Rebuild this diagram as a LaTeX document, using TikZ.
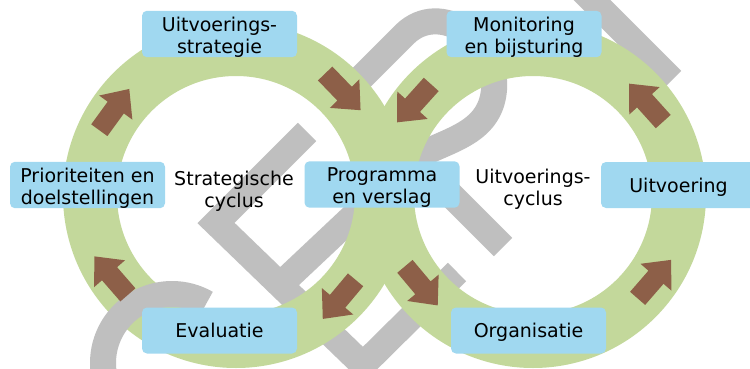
\documentclass[tikz,border=0pt]{standalone}
\usepackage{fontspec}
\setmainfont{DejaVu Sans}
\definecolor{ringgreen}{RGB}{195,216,155}
\definecolor{boxblue}{RGB}{160,216,240}
\definecolor{arrowbrown}{RGB}{141,95,72}
\definecolor{chaingrey}{RGB}{191,191,191}
\newcommand\flowarrow[3]{\fill[arrowfill, shift={(#1,#2)}, rotate=#3]
  (-25,-10) -- (3,-10) -- (3,-20.5) -- (26,0) -- (3,20.5) -- (3,10) -- (-25,10) -- cycle;}
\newcommand\twol[2]{\rule{0pt}{20.5pt}#1\\#2}
\begin{document}
\begin{tikzpicture}[x=1pt,y=-1pt,
  ring/.style={draw=ringgreen, line width=54pt},
  chain/.style={draw=chaingrey, line width=26pt, line join=miter, line cap=butt},
  stepbox/.style={fill=boxblue, rounded corners=5pt, inner sep=0pt, minimum width=155pt,
    minimum height=46pt, align=center, font=\fontsize{19}{22}\selectfont},
  onebox/.style={fill=boxblue, rounded corners=5pt, inner sep=0pt, minimum width=155pt,
    minimum height=46pt, text height=14.4pt, text depth=0pt, font=\fontsize{19}{22}\selectfont},
  cyctext/.style={inner sep=0pt, align=center, font=\fontsize{19}{22}\selectfont},
  arrowfill/.style={fill=arrowbrown}]
\useasboundingbox (0,0) rectangle (750,369);
\clip (0,0) rectangle (750,369);
\fill[white] (0,0) rectangle (750,369);
% grey chain behind the rings
\draw[chain] (307,132) -- (216,223) -- (363,365) -- (457,272);
\draw[chain] (279,286) -- (415,158) .. controls (445,140) and (490,135) .. (494,90)
  .. controls (498,40) and (440,0) .. (405,34) -- (330,109);
\draw[chain] (405,149) -- (503,247);
\draw[chain] (540,-52) -- (672,80);
% rings
\draw[ring] (236,195) circle[radius=146pt];
\draw[ring] (533,195) circle[radius=146pt];
% grey link passing over the left ring
\draw[chain] plot[domain=170:300, samples=60] ({172+69*cos(\x)},{363+69*sin(\x)});
% arrows
\flowarrow{114}{110}{54}
\flowarrow{342.5}{91.5}{-46}
\flowarrow{339.5}{299}{-130}
\flowarrow{111.5}{276}{131}
\flowarrow{414.5}{103}{-132}
\flowarrow{646.5}{103}{132}
\flowarrow{654}{279.5}{49}
\flowarrow{421}{285.5}{-50}
% boxes
\node[stepbox] (strat) at (219.5,34) {\twol{Uitvoerings-}{strategie}};
\node[stepbox] (moni) at (524,34) {\twol{Monitoring}{en bijsturing}};
\node[stepbox] (prio) at (87.5,185) {\twol{Prioriteiten en}{doelstellingen}};
\node[stepbox] (prog) at (382,184.5) {\twol{Programma}{en verslag}};
\node[onebox] (uitv) at (678.5,185) {Uitvoering};
\node[onebox] (eval) at (219.5,330.5) {Evaluatie};
\node[onebox] (orga) at (528.5,330.5) {Organisatie};
\node[cyctext] (strc) at (234,187.8) {\twol{Strategische}{cyclus}};
\node[cyctext] (uitc) at (533,186.3) {\twol{Uitvoerings-}{cyclus}};
\end{tikzpicture}
\end{document}
